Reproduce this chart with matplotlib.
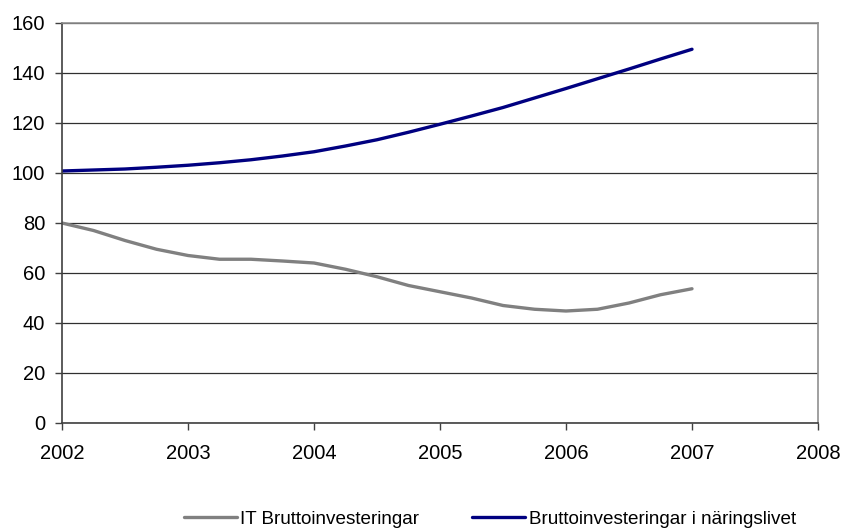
import numpy as np
import matplotlib.pyplot as plt

plt.rcParams["font.family"] = ["Liberation Sans", "DejaVu Sans"]

# Quarterly index values 2002 Q1 - 2007 Q1
quarters = np.arange(2002, 2007.01, 0.25)
it_brutto = [80, 77, 73, 69.5, 67, 65.5, 65.5, 64.8, 64, 61.5, 58.5, 55,
             52.5, 50, 47, 45.5, 44.8, 45.5, 48, 51.3, 53.7]
naringsliv = [100.8, 101.2, 101.6, 102.3, 103.1, 104.1, 105.3, 106.8, 108.5, 110.8, 113.3, 116.3,
              119.5, 122.8, 126.2, 130, 133.8, 137.7, 141.6, 145.6, 149.5]
years = [2002, 2003, 2004, 2005, 2006, 2007, 2008]
yticks = [0, 20, 40, 60, 80, 100, 120, 140, 160]

fig = plt.figure(figsize=(8.43, 5.29), dpi=100)
ax = fig.add_axes([62 / 843, 1 - 423 / 529, (818 - 62) / 843, (423 - 23) / 529])

ax.plot(quarters, it_brutto, color="#808080", lw=2.4, solid_capstyle="round",
        label="IT Bruttoinvesteringar")
ax.plot(quarters, naringsliv, color="#000080", lw=2.4, solid_capstyle="round",
        label="Bruttoinvesteringar i näringslivet")

ax.set_xlim(2002, 2008)
ax.set_ylim(0, 160)
ax.set_xticks(years)
ax.set_yticks(yticks)
ax.tick_params(labelsize=14.5, length=5, width=1, color="#404040")
ax.tick_params(axis="y", pad=7)
ax.tick_params(axis="x", pad=10)
ax.grid(axis="y", color="#303030", lw=0.9)
ax.set_axisbelow(True)
for s in ["left", "bottom"]:
    ax.spines[s].set_color("#404040")
    ax.spines[s].set_linewidth(1.2)
for s in ["right", "top"]:
    ax.spines[s].set_color("#909090")
    ax.spines[s].set_linewidth(1.2)

fig.legend(loc="center", bbox_to_anchor=(490 / 843, 1 - 519 / 529), ncol=2, frameon=False,
           fontsize=13.6, handlelength=2.8, handletextpad=0.2, columnspacing=2.8)

fig.savefig("out.png", dpi=100)
